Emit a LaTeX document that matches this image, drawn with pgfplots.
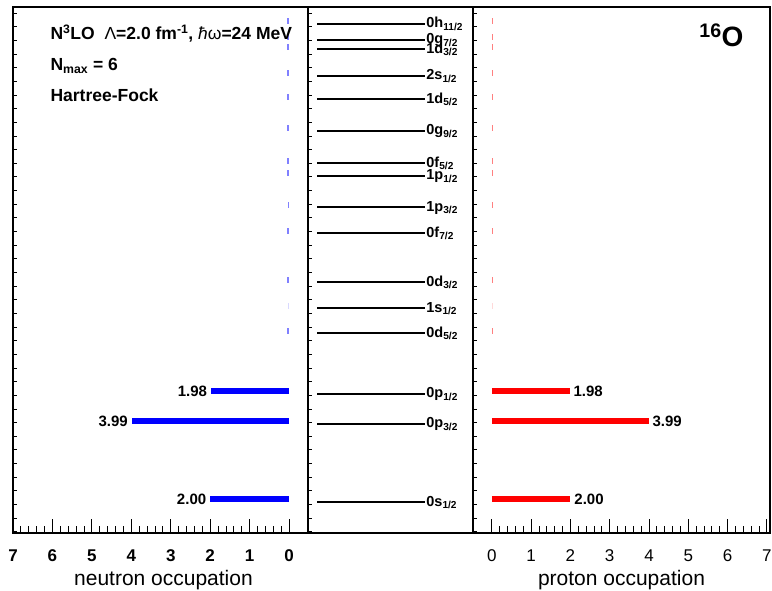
\documentclass[border=0pt]{standalone}
\usepackage{fontspec}
\setmainfont{Liberation Sans}
\usepackage{pgfplots}
\usepackage{pgfplotstable}
\pgfplotsset{compat=1.18}

% single-particle levels (vertical scale)
\pgfplotstableread{
x y label
108 509.0 {0h\textsubscript{11/2}}
108 493.3 {0g\textsubscript{7/2}}
108 483.7 {1d\textsubscript{3/2}}
108 457.3 {2s\textsubscript{1/2}}
108 433.7 {1d\textsubscript{5/2}}
108 402.0 {0g\textsubscript{9/2}}
108 369.7 {0f\textsubscript{5/2}}
108 357.0 {1p\textsubscript{1/2}}
108 325.7 {1p\textsubscript{3/2}}
108 299.7 {0f\textsubscript{7/2}}
108 250.7 {0d\textsubscript{3/2}}
108 224.7 {1s\textsubscript{1/2}}
108 199.7 {0d\textsubscript{5/2}}
108 139.0 {0p\textsubscript{1/2}}
108 109.0 {0p\textsubscript{3/2}}
108 30.7 {0s\textsubscript{1/2}}
}\levels

% occupied orbits
\pgfplotstableread{
y occ lab
142.0 1.98 1.98
111.5 3.99 3.99
34.0 2.00 2.00
}\neutronmain
\pgfplotstableread{
y occ lab
142.0 1.98 1.98
111.5 3.99 3.99
34.0 2.00 2.00
}\protonmain

% nearly empty orbits
\pgfplotstableread{
y occ
511.5 0.04
495.8 0.04
486.2 0.04
459.8 0.04
436.2 0.04
404.5 0.04
372.2 0.04
359.5 0.04
328.2 0.03
302.2 0.04
253.2 0.04
202.2 0.04
}\neutronsmall
\pgfplotstableread{
y occ
227.2 0.02
}\neutrontiny
\pgfplotstableread{
y occ
511.5 0.04
495.8 0.04
486.2 0.04
459.8 0.04
436.2 0.04
404.5 0.04
372.2 0.04
359.5 0.04
328.2 0.03
302.2 0.04
253.2 0.04
202.2 0.04
}\protonsmall
\pgfplotstableread{
y occ
227.2 0.02
}\protontiny

\pgfplotsset{
  panel/.style={
    scale only axis,
    height=526pt,
    ymin=0, ymax=526,
    ytick={1.2,14.85,...,526},
    yticklabels={},
    ytick pos=left,
    ytick style={/pgfplots/major tick length=4pt, line width=0.8pt, black},
    axis line style={line width=1.4pt},
    tick align=inside,
    clip=false,
  },
  occpanel/.style={
    panel,
    xtick={0,...,7},
    minor x tick num=4,
    xtick pos=bottom,
    xtick style={/pgfplots/major tick length=14pt, /pgfplots/minor tick length=7pt, line width=0.8pt, black},
    /pgf/number format/assume math mode=true,
    xticklabel style={anchor=base, yshift=-29pt},
    every axis x label/.style={at={(rel axis cs:0.5,0)}, anchor=base, yshift=-53pt,
      font=\fontsize{21}{21}\selectfont},
  },
}

\begin{document}
\begin{tikzpicture}
\path[use as bounding box] (0,0) rectangle (772pt,591pt);

% ---------------- neutrons ----------------
\begin{axis}[occpanel,
  at={(13pt,58pt)}, anchor=south west, width=295pt,
  x dir=reverse, xmin=-0.48, xmax=7,
  xticklabel style={font=\fontsize{17}{17}\selectfont\bfseries},
  xlabel={neutron occupation},
  xlabel style={xshift=3pt},
]
\addplot[xcomb, blue, line width=6pt,
  point meta=explicit symbolic,
  nodes near coords,
  every node near coord/.append style={anchor=east, inner sep=1pt, black,
    font=\fontsize{15}{15}\selectfont\bfseries}]
  table[x=occ, y=y, meta=lab] {\neutronmain};
\addplot[xcomb, blue!50, line width=6pt] table[x=occ, y=y] {\neutronsmall};
\addplot[xcomb, blue!15, line width=6pt] table[x=occ, y=y] {\neutrontiny};
\node[anchor=base west, font=\fontsize{17.5}{18}\selectfont\bfseries]
  at (rel axis cs:0.1153,0.9373) {N\textsuperscript{3}LO\ \ {\mdseries Λ}=2.0 fm\textsuperscript{-1}, {\mdseries\itshape ħ}{\mdseries ω}=24 MeV};
\node[anchor=base west, font=\fontsize{17.5}{18}\selectfont\bfseries]
  at (rel axis cs:0.1153,0.8790) {N\textsubscript{max} = 6};
\node[anchor=base west, font=\fontsize{17.5}{18}\selectfont\bfseries]
  at (rel axis cs:0.1153,0.8200) {Hartree-Fock};
\end{axis}

% ---------------- levels ----------------
\begin{axis}[panel,
  at={(308pt,58pt)}, anchor=south west, width=165pt,
  xmin=-9, xmax=156, xtick=\empty,
]
\addplot[xcomb, black, line width=1.8pt,
  point meta=explicit symbolic,
  nodes near coords,
  every node near coord/.append style={anchor=base west, inner sep=0.5pt, yshift=-4pt, black,
    font=\fontsize{14.5}{14.5}\selectfont\bfseries}]
  table[x=x, y=y, meta=label] {\levels};
\end{axis}

% ---------------- protons ----------------
\begin{axis}[occpanel,
  at={(473pt,58pt)}, anchor=south west, width=297pt,
  xmin=-0.48, xmax=7.08,
  xticklabel style={font=\fontsize{17}{17}\selectfont},
  xlabel={proton occupation},
]
\addplot[xcomb, red, line width=6pt,
  point meta=explicit symbolic,
  nodes near coords,
  every node near coord/.append style={anchor=west, inner sep=1pt, black,
    font=\fontsize{15}{15}\selectfont\bfseries}]
  table[x=occ, y=y, meta=lab] {\protonmain};
\addplot[xcomb, red!50, line width=6pt] table[x=occ, y=y] {\protonsmall};
\addplot[xcomb, red!15, line width=6pt] table[x=occ, y=y] {\protontiny};
\node[anchor=base east, font=\fontsize{28}{28}\selectfont\bfseries]
  at (rel axis cs:0.9226,0.924) {\textsuperscript{16}O};
\end{axis}
\end{tikzpicture}
\end{document}
